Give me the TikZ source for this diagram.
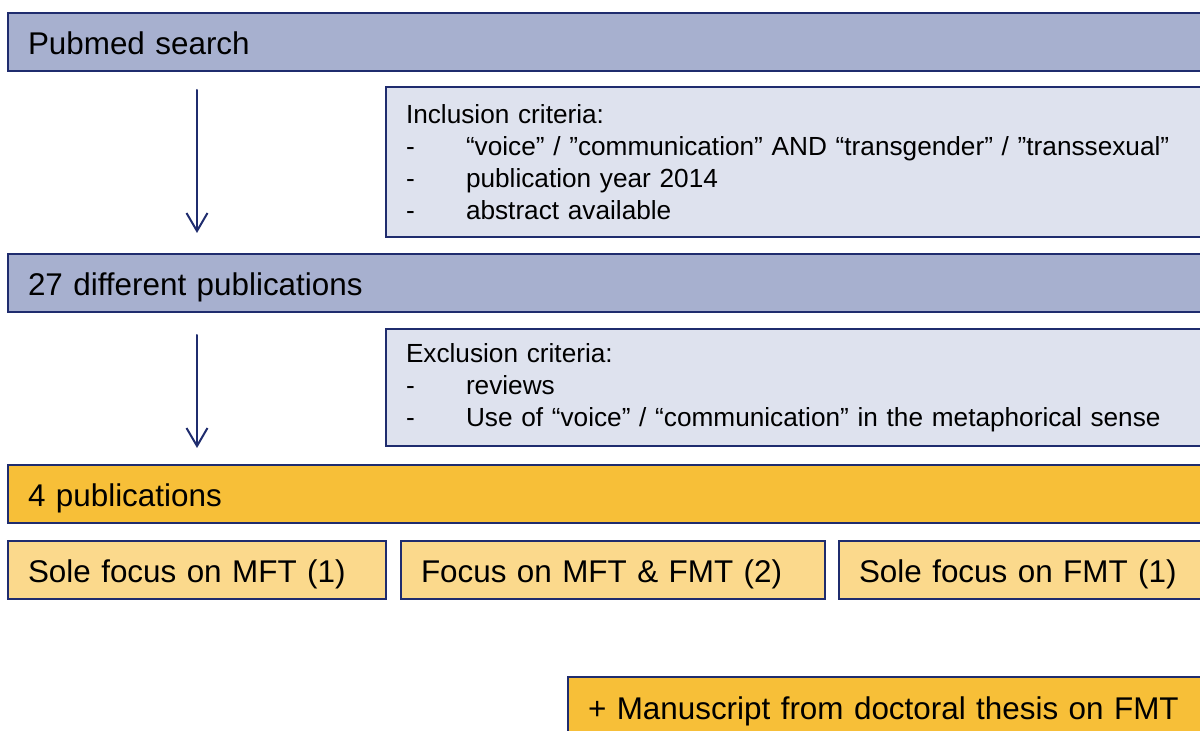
\documentclass[tikz,border=0pt]{standalone}
\usepackage{fontspec}
\setmainfont{Liberation Sans}
\usetikzlibrary{arrows.meta}

\definecolor{navy}{HTML}{1F2C6E}
\definecolor{stepblue}{HTML}{A7B0CF}
\definecolor{critblue}{HTML}{DEE2EE}
\definecolor{resorange}{HTML}{F7BF38}
\definecolor{suborange}{HTML}{FBD98C}

\tikzset{
  flowbox/.style={draw=navy,line width=1pt,anchor=north west,inner xsep=10pt,
    inner ysep=0pt,minimum height=29pt,align=left},
  linebox/.style={flowbox,text height=13.5pt,text depth=0.5pt,
    font=\fontsize{15.7}{19}\selectfont},
  stepbox/.style={linebox,fill=stepblue},
  critbox/.style={flowbox,fill=critblue,font=\fontsize{13.1}{16}\selectfont},
  resbox/.style={linebox,fill=resorange},
  subbox/.style={linebox,fill=suborange},
  flowarrow/.style={draw=navy,line width=1pt,-{Straight Barb[length=9pt,width=10.5pt,line width=1pt]}}
}
\newcommand{\critdash}{\makebox[30pt][l]{-}}

\begin{document}
\begin{tikzpicture}[x=0.5pt,y=-0.5pt,line cap=round]
\path[use as bounding box] (0,0) rectangle (1200,731);
\clip (0,0) rectangle (1200,731);
% search steps
\node[stepbox,text width=580pt] (pubmed) at (7,12) {Pubmed search};
\node[critbox,text width=392.5pt,minimum height=75pt] (inclusion) at (385,86)
  {Inclusion criteria:\\
   \critdash“voice” / ”communication” AND “transgender” / ”transsexual”\\
   \critdash publication year 2014\\
   \critdash abstract available};
\node[stepbox,text width=580pt] (pubs27) at (7,253) {27 different publications};
\node[critbox,text width=392.5pt,minimum height=58.5pt] (exclusion) at (385,328)
  {Exclusion criteria:\\
   \critdash reviews\\
   \critdash Use of “voice” / “communication” in the metaphorical sense};
% results
\node[resbox,text width=580pt] (pubs4) at (7,464) {4 publications};
\node[subbox,text width=169pt] (mft) at (7,540) {Sole focus on MFT (1)};
\node[subbox,text width=192pt] (both) at (400,540) {Focus on MFT \& FMT (2)};
\node[subbox,text width=200pt] (fmt) at (838,540) {Sole focus on FMT (1)};
\node[resbox,text width=330pt] (thesis) at (567,676) {+ Manuscript from doctoral thesis on FMT};
% arrows
\draw[flowarrow,shorten <=9pt,shorten >=10pt] ([xshift=95pt]pubmed.south west) -- ([xshift=95pt]pubs27.north west);
\draw[flowarrow,shorten <=11pt,shorten >=8pt] ([xshift=95pt]pubs27.south west) -- ([xshift=95pt]pubs4.north west);
\end{tikzpicture}
\end{document}
